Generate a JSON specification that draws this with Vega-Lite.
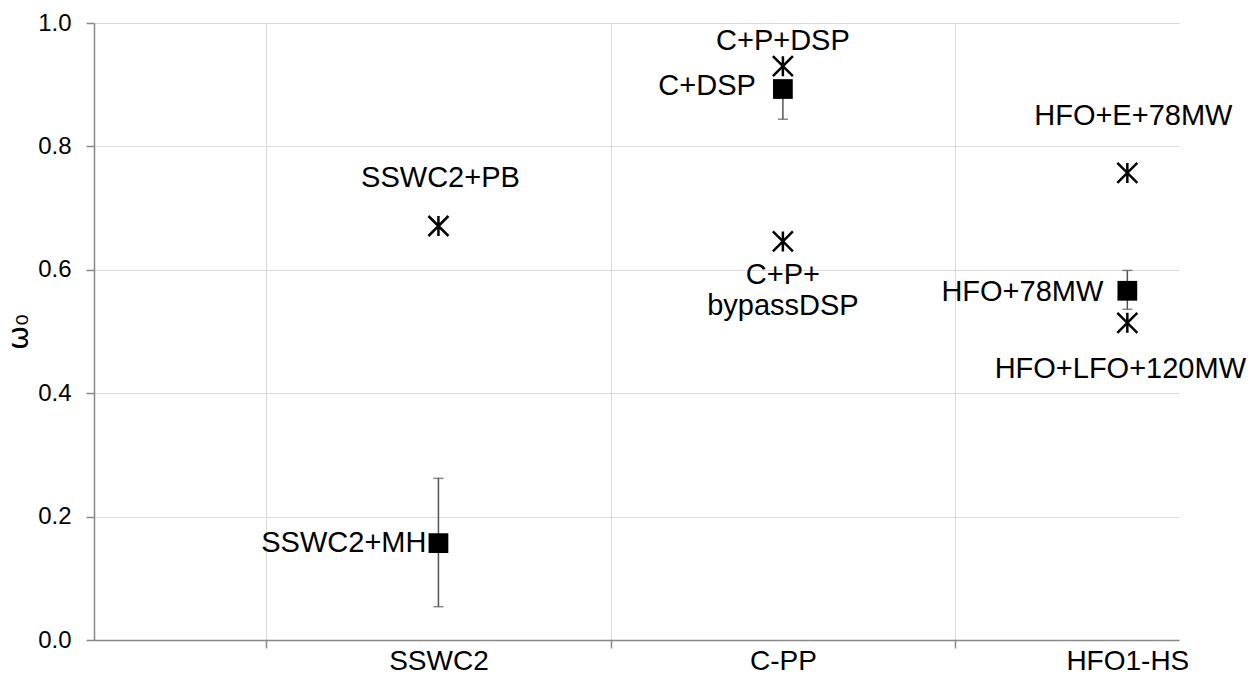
{
  "$schema": "https://vega.github.io/schema/vega-lite/v6.json",
  "width": 1085,
  "height": 617,
  "autosize": "none",
  "padding": {"left": 94, "top": 23, "right": 79, "bottom": 36},
  "background": "white",
  "config": {
    "view": {"stroke": null},
    "font": "Liberation Sans",
    "text": {"font": "Liberation Sans", "fontSize": 29, "color": "black"}
  },
  "data": {
    "values": [
      {"cat": 1, "name": "SSWC2+MH", "kind": "mean", "value": 0.157, "low": 0.054, "high": 0.262},
      {"cat": 1, "name": "SSWC2+PB", "kind": "single", "value": 0.671},
      {"cat": 2, "name": "C+P+DSP", "kind": "single", "value": 0.930},
      {"cat": 2, "name": "C+DSP", "kind": "mean", "value": 0.893, "low": 0.844, "high": 0.893},
      {"cat": 2, "name": "C+P+\nbypassDSP", "kind": "single", "value": 0.646},
      {"cat": 3, "name": "HFO+E+78MW", "kind": "single", "value": 0.757},
      {"cat": 3, "name": "HFO+78MW", "kind": "mean", "value": 0.566, "low": 0.536, "high": 0.599},
      {"cat": 3, "name": "HFO+LFO+120MW", "kind": "single", "value": 0.514}
    ]
  },
  "encoding": {
    "x": {
      "field": "cat", "type": "quantitative",
      "scale": {"domain": [0, 3.15], "nice": false, "zero": false},
      "axis": {
        "title": null,
        "values": [0.5, 1, 1.5, 2, 2.5, 3],
        "labelExpr": "datum.value == 1 ? 'SSWC2' : datum.value == 2 ? 'C-PP' : datum.value == 3 ? 'HFO1-HS' : ''",
        "labelFont": "Liberation Sans", "labelFontSize": 28, "labelColor": "black",
        "labelPadding": -1, "labelFlush": false, "labelOverlap": false,
        "grid": true, "gridColor": "#d9d9d9", "gridWidth": 1,
        "gridOpacity": {"condition": {"test": "datum.value % 1 == 0", "value": 0}, "value": 1},
        "ticks": true, "tickSize": 8, "tickColor": "#888888", "tickWidth": 1.5,
        "tickOpacity": {"condition": {"test": "datum.value % 1 == 0", "value": 0}, "value": 1},
        "domainColor": "#888888", "domainWidth": 1.5
      }
    },
    "y": {
      "field": "value", "type": "quantitative",
      "scale": {"domain": [0, 1], "nice": false},
      "axis": {
        "title": "ω₀", "titleFont": "DejaVu Sans", "titleFontSize": 29, "titleFontWeight": "normal",
        "titleColor": "black", "titlePadding": 4,
        "values": [0, 0.2, 0.4, 0.6, 0.8, 1.0], "format": ".1f",
        "labelFont": "Liberation Sans", "labelFontSize": 24, "labelColor": "black", "labelPadding": 15,
        "grid": true, "gridColor": "#d9d9d9", "gridWidth": 1,
        "tickSize": 8, "tickColor": "#888888", "tickWidth": 1.5,
        "domainColor": "#888888", "domainWidth": 1.5
      }
    }
  },
  "layer": [
    {
      "transform": [{"filter": "datum.kind == 'mean'"}],
      "mark": {"type": "rule", "color": "#555555", "strokeWidth": 1.5},
      "encoding": {"y": {"field": "low", "type": "quantitative"}, "y2": {"field": "high"}}
    },
    {
      "transform": [{"filter": "datum.kind == 'mean'"}],
      "mark": {"type": "tick", "orient": "horizontal", "color": "#555555", "size": 10, "thickness": 1.5},
      "encoding": {"y": {"field": "low", "type": "quantitative"}}
    },
    {
      "transform": [{"filter": "datum.kind == 'mean'"}],
      "mark": {"type": "tick", "orient": "horizontal", "color": "#555555", "size": 10, "thickness": 1.5},
      "encoding": {"y": {"field": "high", "type": "quantitative"}}
    },
    {
      "transform": [{"filter": "datum.kind == 'mean'"}],
      "mark": {"type": "point", "shape": "square", "filled": true, "color": "black", "size": 390, "opacity": 1}
    },
    {
      "transform": [{"filter": "datum.kind == 'single'"}],
      "mark": {"type": "point", "shape": "M-1,-1L1,1M1,-1L-1,1M0,-1L0,1", "filled": false, "stroke": "black", "strokeWidth": 2.5, "size": 400, "opacity": 1}
    },
    {
      "transform": [{"filter": "datum.name == 'SSWC2+PB'"}],
      "mark": {"type": "text", "align": "center", "baseline": "middle", "dy": -48, "dx": 2},
      "encoding": {"text": {"field": "name"}}
    },
    {
      "transform": [{"filter": "datum.name == 'C+P+DSP'"}],
      "mark": {"type": "text", "align": "center", "baseline": "middle", "dy": -25},
      "encoding": {"text": {"field": "name"}}
    },
    {
      "transform": [{"filter": "datum.name == 'HFO+E+78MW'"}],
      "mark": {"type": "text", "align": "center", "baseline": "middle", "dy": -57, "dx": 6},
      "encoding": {"text": {"field": "name"}}
    },
    {
      "transform": [{"filter": "datum.name == 'SSWC2+MH'"}],
      "mark": {"type": "text", "align": "right", "baseline": "middle", "dx": -12},
      "encoding": {"text": {"field": "name"}}
    },
    {
      "transform": [{"filter": "datum.name == 'C+DSP'"}],
      "mark": {"type": "text", "align": "right", "baseline": "middle", "dx": -27, "dy": -3},
      "encoding": {"text": {"field": "name"}}
    },
    {
      "transform": [{"filter": "datum.name == 'HFO+78MW'"}],
      "mark": {"type": "text", "align": "right", "baseline": "middle", "dx": -24, "dy": 1},
      "encoding": {"text": {"field": "name"}}
    },
    {
      "transform": [{"filter": "datum.name == 'C+P+\\nbypassDSP'"}],
      "mark": {"type": "text", "align": "center", "baseline": "alphabetic", "dy": 43, "lineBreak": "\n", "lineHeight": 31},
      "encoding": {"text": {"field": "name"}}
    },
    {
      "transform": [{"filter": "datum.name == 'HFO+LFO+120MW'"}],
      "mark": {"type": "text", "align": "center", "baseline": "middle", "dy": 46, "dx": -7},
      "encoding": {"text": {"field": "name"}}
    }
  ]
}
